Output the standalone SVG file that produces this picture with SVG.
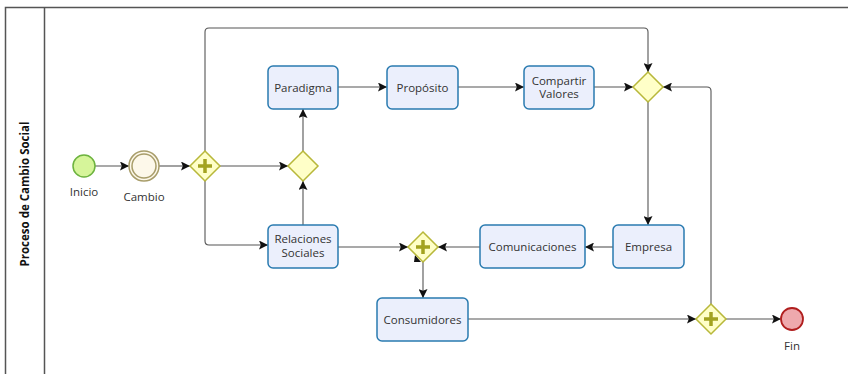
<svg xmlns="http://www.w3.org/2000/svg" width="848" height="374" viewBox="0 0 848 374">
<defs>
<marker id="arr" viewBox="0 0 10 10" refX="10" refY="5" markerWidth="9" markerHeight="9" markerUnits="userSpaceOnUse" orient="auto">
<path d="M0,0 L10,5 L0,10 L2,5 Z" fill="#111"/>
</marker>
<style>
.lane{fill:none;stroke:#555;stroke-width:1.5}
.task{fill:#EBEFFC;stroke:#2A7BB0;stroke-width:1.5}
.gw{fill:#FFFFC8;stroke:#B8B83A;stroke-width:1.5}
.plus{fill:none;stroke:#A3A320;stroke-width:3.5}
.t{font-family:"Open Sans","Liberation Sans",sans-serif;font-size:11.5px;fill:#333;text-anchor:middle}
.c{fill:none;stroke:#555;stroke-width:1.1;marker-end:url(#arr)}
</style>
</defs>
<rect width="848" height="374" fill="#fff"/>
<g id="pool">
<path class="lane" d="M5.5,374 V7.5 H848"/>
<line class="lane" x1="44.5" y1="7.5" x2="44.5" y2="374"/>
<text transform="translate(29,194) rotate(-90)" style="font-family:'Open Sans','Liberation Sans',sans-serif;font-size:11.5px;font-weight:bold;fill:#111;text-anchor:middle">Proceso de Cambio Social</text>
</g>
<g id="connectors">
<path class="c" d="M95,166 H129"/>
<path class="c" d="M159,166 H190"/>
<path class="c" d="M220,166 H288"/>
<path class="c" d="M205,151 V32 Q205,28 209,28 H644 Q648,28 648,32 V72"/>
<path class="c" d="M205,181 V241 Q205,245 209,245 H268"/>
<path class="c" d="M303,225 V181"/>
<path class="c" d="M303,151 V109"/>
<path class="c" d="M338,87 H387"/>
<path class="c" d="M458,87 H524"/>
<path class="c" d="M594,87 H633"/>
<path class="c" d="M711,304 V91 Q711,87 707,87 H663"/>
<path class="c" d="M648,102 V225"/>
<path class="c" d="M613,247 H585"/>
<path class="c" d="M480,247 H438"/>
<path class="c" d="M338,247 H408"/>
<path class="c" d="M423,262 V298"/>
<path class="c" d="M468,319 H696"/>
<path class="c" d="M726,319 H781"/>
<path d="M415,255 L421,262 L414,262 Z" fill="#111"/>
</g>
<g id="inicio">
<circle cx="84" cy="166" r="11" fill="#D6F59A" stroke="#6DB33F" stroke-width="1.5"/>
<text class="t" x="84" y="196">Inicio</text>
</g>
<g id="cambio">
<circle cx="144" cy="166" r="15" fill="#FDF8EA" stroke="#A89D6A" stroke-width="1.5"/>
<circle cx="144" cy="166" r="12" fill="none" stroke="#A89D6A" stroke-width="1.5"/>
<text class="t" x="144" y="201">Cambio</text>
</g>
<g id="gw1">
<polygon class="gw" points="205,151 220,166 205,181 190,166"/>
<path class="plus" d="M205,159 V173 M198,166 H212"/>
</g>
<g id="gw2">
<polygon class="gw" points="303,151 318,166 303,181 288,166"/>
</g>
<g id="paradigma">
<rect class="task" x="268" y="66" width="70" height="43" rx="5"/>
<text class="t" x="303" y="91.5">Paradigma</text>
</g>
<g id="proposito">
<rect class="task" x="387" y="66" width="71" height="43" rx="5"/>
<text class="t" x="422.5" y="91.5">Propósito</text>
</g>
<g id="compartir">
<rect class="task" x="524" y="66" width="70" height="43" rx="5"/>
<text class="t" x="559" y="84.5">Compartir</text>
<text class="t" x="559" y="98">Valores</text>
</g>
<g id="gw3">
<polygon class="gw" points="648,72 663,87 648,102 633,87"/>
</g>
<g id="relaciones">
<rect class="task" x="268" y="225" width="70" height="43" rx="5"/>
<text class="t" x="303" y="243">Relaciones</text>
<text class="t" x="303" y="256.5">Sociales</text>
</g>
<g id="gw4">
<polygon class="gw" points="423,232 438,247 423,262 408,247"/>
<path class="plus" d="M423,240 V254 M416,247 H430"/>
</g>
<g id="comunicaciones">
<rect class="task" x="480" y="225" width="105" height="43" rx="5"/>
<text class="t" x="532.5" y="250.5">Comunicaciones</text>
</g>
<g id="empresa">
<rect class="task" x="613" y="225" width="71" height="43" rx="5"/>
<text class="t" x="648.5" y="250.5">Empresa</text>
</g>
<g id="consumidores">
<rect class="task" x="377" y="298" width="91" height="43" rx="5"/>
<text class="t" x="422.5" y="323.5">Consumidores</text>
</g>
<g id="gw5">
<polygon class="gw" points="711,304 726,319 711,334 696,319"/>
<path class="plus" d="M711,312 V326 M704,319 H718"/>
</g>
<g id="fin">
<circle cx="792" cy="319" r="11" fill="#EEA9AD" stroke="#B01E1E" stroke-width="1.8"/>
<text class="t" x="792" y="350">Fin</text>
</g>
</svg>
